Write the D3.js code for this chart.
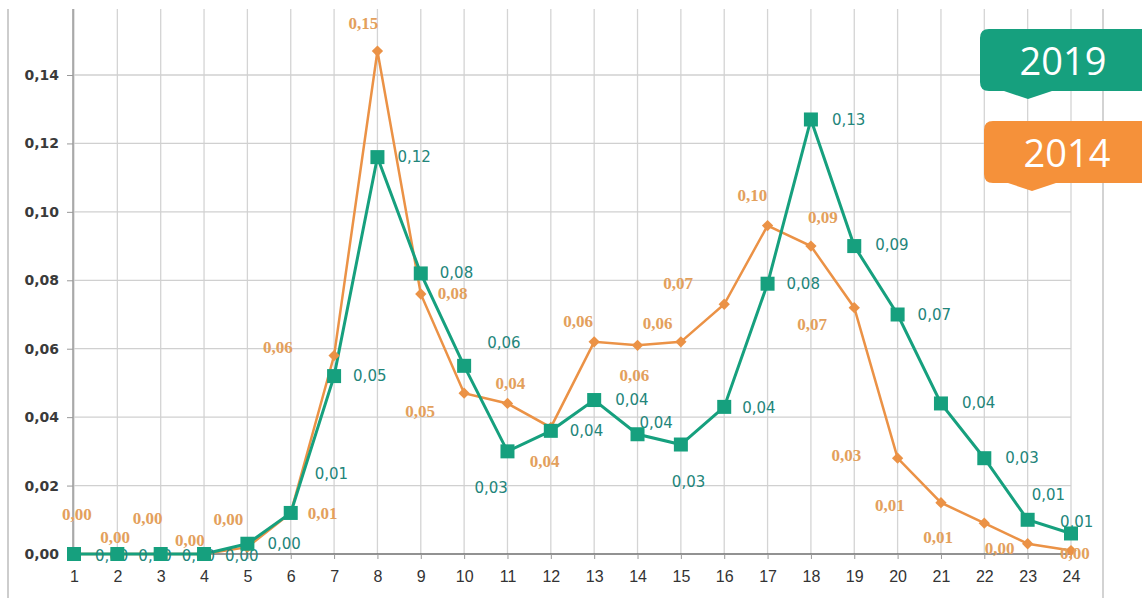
<!DOCTYPE html>
<html>
<head>
<meta charset="utf-8">
<script src="https://cdn.jsdelivr.net/npm/d3@7"></script>
<style>
  body { margin: 0; background: #fff; }
  svg { display: block; }
</style>
</head>
<body>
<div id="chart"></div>
<script>
// hours of the day
var categories = [1,2,3,4,5,6,7,8,9,10,11,12,13,14,15,16,17,18,19,20,21,22,23,24];
var series2019 = [0.000,0.000,0.000,0.000,0.003,0.012,0.052,0.116,0.082,0.055,0.030,0.036,0.045,0.035,0.032,0.043,0.079,0.127,0.090,0.070,0.044,0.028,0.010,0.006];
var series2014 = [0.000,0.000,0.000,0.000,0.002,0.012,0.058,0.147,0.076,0.047,0.044,0.037,0.062,0.061,0.062,0.073,0.096,0.090,0.072,0.028,0.015,0.009,0.003,0.001];
var yTicks = [0,0.02,0.04,0.06,0.08,0.10,0.12,0.14];
var legendNames = ["2019", "2014"];

// label offsets (px) from each point, as placed in the original
var dx2019 = [21,21,21,21,20,24,19,20,19,23,-33,19,21,2,-9,18,19,21,21,20,21,21,4,-11];
var dy2019 = [2,2,2,2,0,-39,0,0,0,-23,37,0,0,-11,37,1,0,1,-1,0,0,0,-25,-11];
var dx2014 = [-12,-17,-28,-29,-34,17,-71,-29,17,-59,-12,-21,-31,-18,-38,-61,-30,-3,-57,-66,-66,-61,-43,-11];
var dy2014 = [-39,-16,-35,-13,-27,1,-8,-27,0,19,-19,35,-20,31,-18,-20,-30,-28,17,-2,3,15,5,3];

var W = 1142, H = 602;
var green = "#16a07e", orange = "#eb9246";
var greenText = "#23857a", orangeText = "#e3a05c";

var loc = d3.formatLocale({decimal: ",", thousands: " ", grouping: [3], currency: ["", ""]});
var fmt = loc.format(".2f");

var svg = d3.select("#chart").append("svg")
  .attr("width", W)
  .attr("height", H);

var x = d3.scalePoint().domain(categories).range([74, 1071]);
var y = d3.scaleLinear().domain([0, 0.14]).range([554, 75]);
var plotTop = 9;

// outer frame
svg.append("line").attr("x1", 8).attr("x2", 8).attr("y1", plotTop).attr("y2", 598)
  .attr("stroke", "#bdbdbd").attr("stroke-width", 1.5);
svg.append("line").attr("x1", 1103).attr("x2", 1103).attr("y1", plotTop).attr("y2", 598)
  .attr("stroke", "#c4c4c4").attr("stroke-width", 1.5);

// grid
svg.append("g").selectAll("line")
  .data(categories)
  .enter().append("line")
  .attr("x1", function(d) { return x(d); })
  .attr("x2", function(d) { return x(d); })
  .attr("y1", plotTop)
  .attr("y2", y(0))
  .attr("stroke", "#d4d4d4")
  .attr("stroke-width", 1.3);

svg.append("g").selectAll("line")
  .data(yTicks.slice(1))
  .enter().append("line")
  .attr("x1", x(1))
  .attr("x2", x(24))
  .attr("y1", function(d) { return y(d); })
  .attr("y2", function(d) { return y(d); })
  .attr("stroke", "#d0d0d0")
  .attr("stroke-width", 1.3);

// y axis
var yAxis = d3.axisLeft(y).tickValues(yTicks).tickFormat(fmt).tickSize(6).tickPadding(8);
var gy = svg.append("g").attr("transform", "translate(" + (x(1) - 1) + ",0)").call(yAxis);
gy.select(".domain").attr("d", "M0," + plotTop + "V" + y(0)).attr("stroke", "#8a8a8a").attr("stroke-width", 1.3);
gy.selectAll(".tick line").attr("stroke", "#999");
gy.selectAll(".tick text")
  .attr("fill", "#3a3a3a")
  .style("font-family", "'DejaVu Sans', Verdana, sans-serif")
  .style("font-size", "14px")
  .style("font-weight", "bold");

// x axis
var xAxis = d3.axisBottom(x).tickSize(5).tickPadding(12);
var gx = svg.append("g").attr("transform", "translate(0," + y(0) + ")").call(xAxis);
gx.select(".domain").attr("d", "M" + (x(1) - 1) + ",0H" + x(24)).attr("stroke", "#6e6e6e").attr("stroke-width", 1.5);
gx.selectAll(".tick line").attr("stroke", "#999");
gx.selectAll(".tick text")
  .attr("fill", "#333")
  .style("font-family", "'Liberation Sans', Arial, sans-serif")
  .style("font-size", "16px");

var line = d3.line()
  .x(function(d, i) { return x(categories[i]); })
  .y(function(d) { return y(d); });

// 2014 line
svg.append("path").datum(series2014)
  .attr("d", line)
  .attr("fill", "none")
  .attr("stroke", orange)
  .attr("stroke-width", 2.5);

// 2019 line
svg.append("path").datum(series2019)
  .attr("d", line)
  .attr("fill", "none")
  .attr("stroke", green)
  .attr("stroke-width", 3);

// 2019 labels (under markers)
svg.append("g").selectAll("text")
  .data(series2019)
  .enter().append("text")
  .attr("x", function(d, i) { return x(categories[i]) + dx2019[i]; })
  .attr("y", function(d) { return y(d); })
  .attr("dy", function(d, i) { return dy2019[i] + 5; })
  .attr("fill", greenText)
  .style("font-family", "'DejaVu Sans', Verdana, sans-serif")
  .style("font-size", "15px")
  .text(function(d) { return fmt(d); });

// 2014 diamonds
svg.append("g").selectAll("path")
  .data(series2014)
  .enter().append("path")
  .attr("transform", function(d, i) { return "translate(" + x(categories[i]) + "," + y(d) + ") rotate(45)"; })
  .attr("d", "M-4,-4H4V4H-4Z")
  .attr("fill", orange);

// 2019 squares
svg.append("g").selectAll("rect")
  .data(series2019)
  .enter().append("rect")
  .attr("x", function(d, i) { return x(categories[i]) - 7; })
  .attr("y", function(d) { return y(d) - 7; })
  .attr("width", 14)
  .attr("height", 14)
  .attr("fill", green);

// 2014 labels
svg.append("g").selectAll("text")
  .data(series2014)
  .enter().append("text")
  .attr("x", function(d, i) { return x(categories[i]) + dx2014[i]; })
  .attr("y", function(d) { return y(d); })
  .attr("dy", function(d, i) { return dy2014[i] + 5; })
  .attr("fill", orangeText)
  .style("font-family", "'Liberation Serif', 'DejaVu Serif', serif")
  .style("font-size", "17px")
  .style("font-weight", "bold")
  .text(function(d) { return fmt(d); });

// legend callouts
var legendColors = [green, "#f5913a"];
var legendTops = [29, 121];
legendNames.forEach(function(name, i) {
  var g = svg.append("g").attr("transform", "translate(" + (980 + i * 4) + "," + legendTops[i] + ")");
  var w = 170, h = 62, r = 9, px = 48;
  g.append("path")
    .attr("d", "M" + r + ",0H" + w + "V" + h + "H" + (px + 24) + "L" + px + "," + (h + 8) +
      "L" + (px - 24) + "," + h + "H" + r + "Q0," + h + " 0," + (h - r) + "V" + r + "Q0,0 " + r + ",0Z")
    .attr("fill", legendColors[i]);
  g.append("text")
    .attr("x", 83)
    .attr("y", 46)
    .attr("text-anchor", "middle")
    .attr("fill", "#fff")
    .style("font-family", "'Open Sans', sans-serif")
    .style("font-size", "38px")
    .text(name);
});
</script>
</body>
</html>
